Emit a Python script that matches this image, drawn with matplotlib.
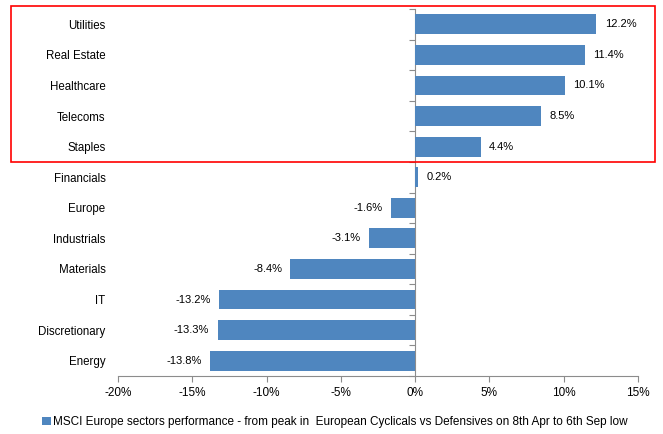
import matplotlib
matplotlib.use("Agg")
import matplotlib.pyplot as plt
from matplotlib.patches import Rectangle
from matplotlib.ticker import FuncFormatter
from matplotlib import font_manager

sectors = ["Utilities", "Real Estate", "Healthcare", "Telecoms", "Staples", "Financials",
           "Europe", "Industrials", "Materials", "IT", "Discretionary", "Energy"]
performance = [12.2, 11.4, 10.1, 8.5, 4.4, 0.2, -1.6, -3.1, -8.4, -13.2, -13.3, -13.8]
x_ticks = [-20, -15, -10, -5, 0, 5, 10, 15]
legend_label = "MSCI Europe sectors performance - from peak in  European Cyclicals vs Defensives on 8th Apr to 6th Sep low"

names = {f.name for f in font_manager.fontManager.ttflist}
family = "Liberation Sans Narrow" if "Liberation Sans Narrow" in names else "Liberation Sans"
plt.rcParams["font.family"] = [family, "DejaVu Sans"]

bar_color = "#4F86BF"
axis_color = "#8C8C8C"

fig = plt.figure(figsize=(6.63, 4.34), dpi=100)
ax = fig.add_axes([118 / 663, 58 / 434, 520 / 663, 367 / 434])

ypos = list(range(len(sectors)))
bars = ax.barh(ypos, performance, height=0.65, color=bar_color, label=legend_label)
ax.bar_label(bars, labels=[f"{v:.1f}%" for v in performance], padding=6, fontsize=8)

ax.set_xlim(-20, 15)
ax.set_ylim(len(sectors) - 0.5, -0.5)
ax.set_xticks(x_ticks)
ax.xaxis.set_major_formatter(FuncFormatter(lambda v, p: f"{v:.0f}%"))
ax.tick_params(axis="x", direction="out", length=4, color=axis_color, labelsize=8.5, pad=4)
ax.set_yticks(ypos)
ax.set_yticklabels(sectors, fontsize=8.3)
ax.tick_params(axis="y", length=0, pad=9)

for side in ["top", "right", "left"]:
    ax.spines[side].set_visible(False)
ax.spines["bottom"].set_color(axis_color)

# zero line with category-boundary ticks
zero_axis = ax.secondary_yaxis(20 / 35)
for sp in zero_axis.spines.values():
    sp.set_color(axis_color)
zero_axis.set_yticks([i - 0.5 for i in range(len(sectors) + 1)])
zero_axis.set_yticklabels([])
zero_axis.tick_params(direction="in", length=4, color=axis_color)

fig.legend(loc="center", bbox_to_anchor=(335 / 663, 12 / 434), frameon=False, fontsize=8.5,
           handlelength=0.7, handleheight=0.7, handletextpad=0.2)

fig.patches.append(Rectangle((11 / 663, 272 / 434), 644 / 663, 156 / 434, transform=fig.transFigure,
                             fill=False, edgecolor="#FF0000", linewidth=1.2))

fig.savefig("out.png", dpi=100)
